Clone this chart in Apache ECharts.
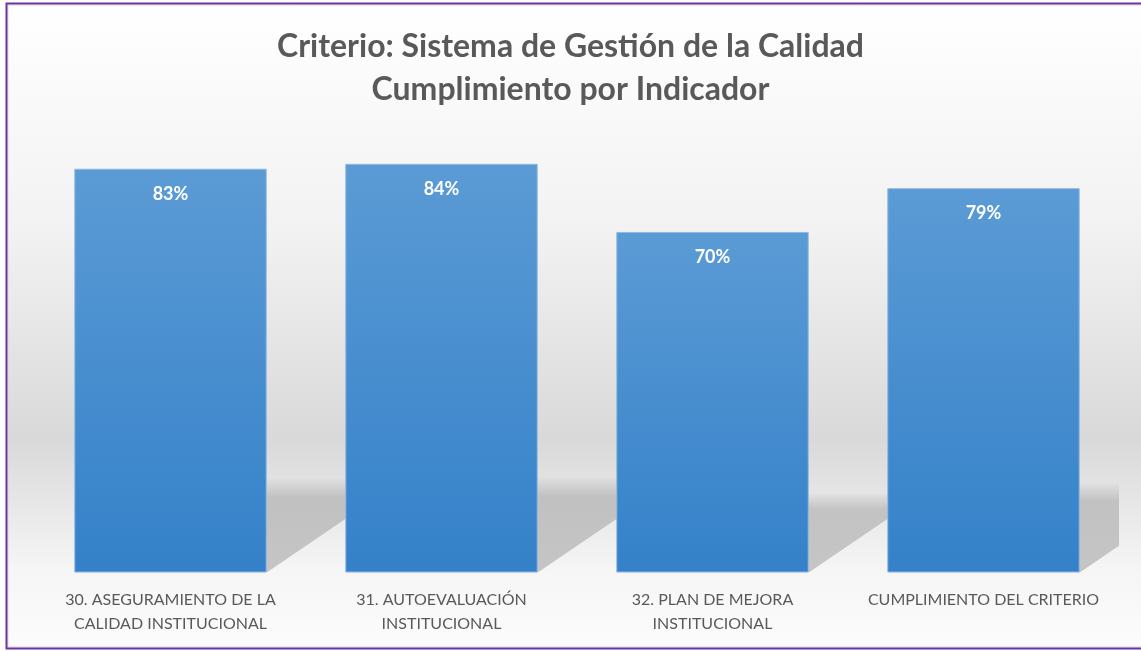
<!DOCTYPE html>
<html>
<head>
<meta charset="utf-8">
<script src="https://cdn.jsdelivr.net/npm/echarts@6/dist/echarts.min.js"></script>
<style>
html, body { margin: 0; padding: 0; background: #fff; }
#main { width: 1141px; height: 651px; }
</style>
</head>
<body>
<div id="main"></div>
<script>
// datos del grafico
var titulo = 'Criterio: Sistema de Gestión de la Calidad\nCumplimiento por Indicador';
var categorias = [
	'30. ASEGURAMIENTO DE LA\nCALIDAD INSTITUCIONAL',
	'31. AUTOEVALUACIÓN\nINSTITUCIONAL',
	'32. PLAN DE MEJORA\nINSTITUCIONAL',
	'CUMPLIMIENTO DEL CRITERIO'
];
var cumplimiento = [83, 84, 70, 79];

var myChart = echarts.init(document.getElementById('main'));

// sombra en perspectiva de cada barra (como en Excel)
function sombra(params, api) {
	var i = api.value(0);
	var base = api.coord([i, 0]);
	var tope = api.coord([i, api.value(1)]);
	var ancho = api.size([1, 0])[0] * 0.71;
	var h = (base[1] - tope[1]) * 0.232;
	var dx = h * 1.47;
	var xL = base[0] - ancho / 2, xR = base[0] + ancho / 2, y0 = base[1];
	return {
		type: 'polygon',
		shape: { points: [[xL, y0], [xR, y0], [xR + dx, y0 - h], [xL + dx, y0 - h]] },
		style: {
			fill: new echarts.graphic.LinearGradient(0, 0, 0, 1, [
				{ offset: 0, color: 'rgba(0,0,0,0.01)' },
				{ offset: 0.2, color: 'rgba(0,0,0,0.16)' },
				{ offset: 1, color: 'rgba(0,0,0,0.2)' }
			])
		}
	};
}

option = {
	animation: false,
	graphic: [
		{
			type: 'rect', z: -10, silent: true,
			shape: { x: 8, y: 5, width: 1140, height: 642 },
			style: {
				fill: new echarts.graphic.LinearGradient(0, 0, 0, 1, [
					{ offset: 0, color: '#ffffff' },
					{ offset: 0.35, color: '#f2f2f2' },
					{ offset: 0.677, color: '#d9d9d9' },
					{ offset: 0.883, color: '#f6f6f6' },
					{ offset: 1, color: '#fcfcfc' }
				]),
				stroke: '#d9d9d9', lineWidth: 1
			}
		},
		{
			type: 'rect', z: 100, silent: true,
			shape: { x: 6.5, y: 3.5, width: 1150, height: 645 },
			style: { fill: 'none', stroke: '#7030a0', lineWidth: 2 }
		}
	],
	title: {
		text: titulo,
		left: 'center',
		top: 20,
		textStyle: {
			fontFamily: 'Lato',
			fontSize: 32,
			fontWeight: 'bold',
			color: '#595959',
			lineHeight: 43
		}
	},
	grid: { left: 35, right: 22, top: 86, bottom: 78.5 },
	xAxis: {
		type: 'category',
		data: categorias,
		axisLine: { show: false },
		axisTick: { show: false },
		axisLabel: {
			interval: 0,
			margin: 15,
			fontFamily: 'Lato',
			fontSize: 16,
			lineHeight: 24,
			color: '#595959'
		}
	},
	yAxis: {
		type: 'value',
		min: 0,
		max: 100,
		show: false,
		splitLine: { show: false }
	},
	series: [
		{
			type: 'custom',
			z: 1,
			clip: true,
			renderItem: sombra,
			data: cumplimiento.map(function (v, i) { return [i, v]; })
		},
		{
			type: 'bar',
			z: 2,
			barWidth: '71%',
			data: cumplimiento,
			itemStyle: {
				color: new echarts.graphic.LinearGradient(0, 0, 0, 1, [
					{ offset: 0, color: '#5b9bd5' },
					{ offset: 1, color: '#3481c9' }
				]),
				borderColor: '#8fb9e3',
				borderWidth: 1
			},
			label: {
				show: true,
				position: 'insideTop',
				distance: 16,
				formatter: '{c}%',
				fontFamily: 'Lato',
				fontSize: 18,
				fontWeight: 'bold',
				color: '#ffffff'
			}
		}
	]
};
myChart.setOption(option);
window.onresize = myChart.resize;
</script>
</body>
</html>
